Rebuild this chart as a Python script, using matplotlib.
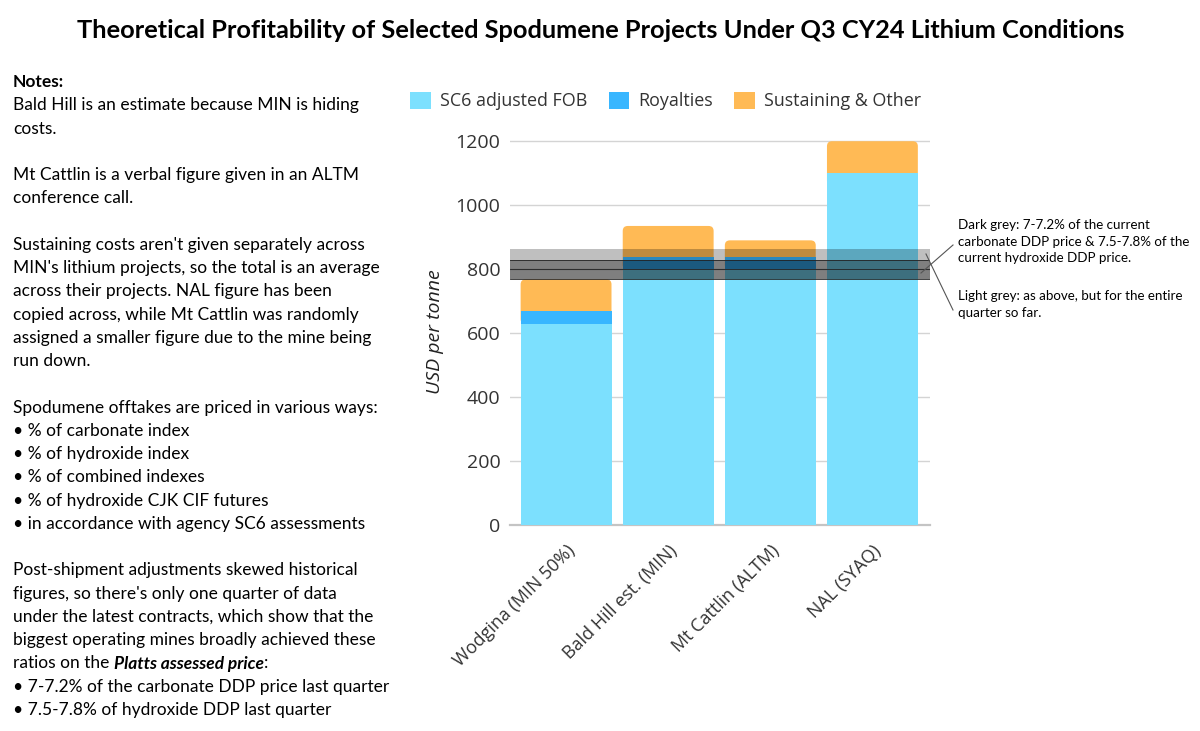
import numpy as np
import matplotlib.pyplot as plt
from matplotlib.patches import FancyBboxPatch, Patch
from matplotlib.lines import Line2D

projects = ["Wodgina (MIN 50%)", "Bald Hill est. (MIN)", "Mt Cattlin (ALTM)", "NAL (SYAQ)"]
sc6_fob = [630, 800, 800, 1100]
royalties = [38, 38, 38, 0]
sustaining = [100, 97, 52, 100]
yticks = [0, 200, 400, 600, 800, 1000, 1200]

# price bands, USD/t
band_quarter = (768, 862)   # light grey: whole quarter so far
band_current = (768, 830)   # dark grey: current prices
band_lines = [768, 800, 830]

title = ("Theoretical Profitability of Selected Spodumene Projects "
         "Under Q3 CY24 Lithium Conditions")
notes = [
    "Bald Hill is an estimate because MIN is hiding",
    "costs.",
    "",
    "Mt Cattlin is a verbal figure given in an ALTM",
    "conference call.",
    "",
    "Sustaining costs aren't given separately across",
    "MIN's lithium projects, so the total is an average",
    "across their projects. NAL figure has been",
    "copied across, while Mt Cattlin was randomly",
    "assigned a smaller figure due to the mine being",
    "run down.",
    "",
    "Spodumene offtakes are priced in various ways:",
    "\u2022 % of carbonate index",
    "\u2022 % of hydroxide index",
    "\u2022 % of combined indexes",
    "\u2022 % of hydroxide CJK CIF futures",
    "\u2022 in accordance with agency SC6 assessments",
    "",
    "Post-shipment adjustments skewed historical",
    "figures, so there's only one quarter of data",
    "under the latest contracts, which show that the",
    "biggest operating mines broadly achieved these",
    None,  # mixed-style line, drawn separately
    "\u2022 7-7.2% of the carbonate DDP price last quarter",
    "\u2022 7.5-7.8% of hydroxide DDP last quarter",
]
dark_note = ("Dark grey: 7-7.2% of the current\n"
             "carbonate DDP price & 7.5-7.8% of the\n"
             "current hydroxide DDP price.")
light_note = "Light grey: as above, but for the entire\nquarter so far."

C_FOB = "#7CE0FE"
C_ROY = "#38B6FF"
C_SUS = "#FFBA55"
NOTE_FONT = "Lato"
CHART_FONT = "Open Sans"

W, H = 1200, 731


def px(x, y):
    return x / W, 1 - y / H


def fig_line(x0, y0, x1, y1):
    a, b = px(x0, y0), px(x1, y1)
    fig.add_artist(Line2D([a[0], b[0]], [a[1], b[1]], color="#555555", lw=0.8))


fig = plt.figure(figsize=(12, 7.31), dpi=100)
ax = fig.add_axes([510 / W, 1 - 525 / H, 420 / W, 387 / H])

x = np.arange(len(projects))
w = 0.89
fob = np.array(sc6_fob)
roy = np.array(royalties)
sus = np.array(sustaining)
sus_bottom = fob + roy

# top segment with rounded corners, lower segments drawn over its bottom
for i in range(len(projects)):
    ax.add_patch(FancyBboxPatch((x[i] - w / 2, sus_bottom[i] - 40), w, sus[i] + 40,
                                boxstyle="round,pad=0,rounding_size=0.05",
                                mutation_aspect=310, fc=C_SUS, ec="none", zorder=2))
ax.bar(x, fob, w, color=C_FOB, zorder=3)
ax.bar(x, roy, w, bottom=fob, color=C_ROY, zorder=3)

ax.axhspan(*band_quarter, color="black", alpha=0.25, lw=0, zorder=4)
ax.axhspan(*band_current, color="black", alpha=0.333, lw=0, zorder=4)
for v in band_lines:
    ax.axhline(v, color="#222222", lw=0.6, zorder=5)

ax.set_xlim(-0.549, 3.564)
ax.set_ylim(0, 1210)
ax.set_yticks(yticks)
ax.yaxis.grid(True, color="#d4d4d4", lw=1)
ax.set_axisbelow(True)
for s in ["top", "right", "left"]:
    ax.spines[s].set_visible(False)
ax.spines["bottom"].set_color("#c4c4c4")
ax.spines["bottom"].set_linewidth(1.6)
ax.tick_params(length=0, pad=7, labelsize=14, labelcolor="#333333")
for lab in ax.get_yticklabels():
    lab.set_fontfamily(CHART_FONT)
ax.set_xticks(x)
ax.set_xticklabels(projects, rotation=45, ha="right", rotation_mode="anchor",
                   fontsize=13, fontfamily=CHART_FONT, color="#333333")
ax.tick_params(axis="x", pad=12)
ax.set_ylabel("USD per tonne", fontsize=14, fontstyle="italic",
              fontfamily=CHART_FONT, color="#222222")
ax.yaxis.set_label_coords(-0.158, 0.5)

handles = [Patch(fc=C_FOB), Patch(fc=C_ROY), Patch(fc=C_SUS)]
fig.legend(handles, ["SC6 adjusted FOB", "Royalties", "Sustaining & Other"],
           loc="center left", bbox_to_anchor=px(394, 101), ncol=3, frameon=False,
           prop={"family": CHART_FONT, "size": 12.9}, labelcolor="#333333",
           handlelength=1.15, handleheight=1.15, handletextpad=0.5, columnspacing=1.2)

fig.text(*px(601, 31), title, ha="center", va="center", fontsize=18.3,
         fontweight="bold", fontfamily=NOTE_FONT)

# notes on the left
fig.text(*px(13, 82), "Notes:", ha="left", va="center", fontsize=12.5,
         fontweight="bold", fontfamily=NOTE_FONT)
step = 23.26
for i, line in enumerate(notes):
    y = 82 + (i + 1) * step
    if line is None:
        t = fig.text(*px(13, y), "ratios on the ", ha="left", va="center",
                     fontsize=12.5, fontfamily=NOTE_FONT)
        fig.canvas.draw()
        bb = t.get_window_extent()
        t2 = fig.text(bb.x1 / W, 1 - y / H, "Platts assessed price", ha="left",
                      va="center", fontsize=12.5, fontfamily=NOTE_FONT,
                      fontweight="bold", fontstyle="italic")
        fig.canvas.draw()
        bb2 = t2.get_window_extent()
        fig.text(bb2.x1 / W, 1 - y / H, ":", ha="left", va="center",
                 fontsize=12.5, fontfamily=NOTE_FONT)
    elif line:
        fig.text(*px(13, y), line, ha="left", va="center", fontsize=12.5,
                 fontfamily=NOTE_FONT)

# band callouts
fig.text(*px(958, 219), dark_note, ha="left", va="top", fontsize=9.6,
         fontfamily=NOTE_FONT, linespacing=1.45)
fig.text(*px(958, 290), light_note, ha="left", va="top", fontsize=9.6,
         fontfamily=NOTE_FONT, linespacing=1.45)
fig_line(921, 273, 953, 245)
fig_line(926, 254, 953, 310)

fig.savefig("out.png", dpi=100)
